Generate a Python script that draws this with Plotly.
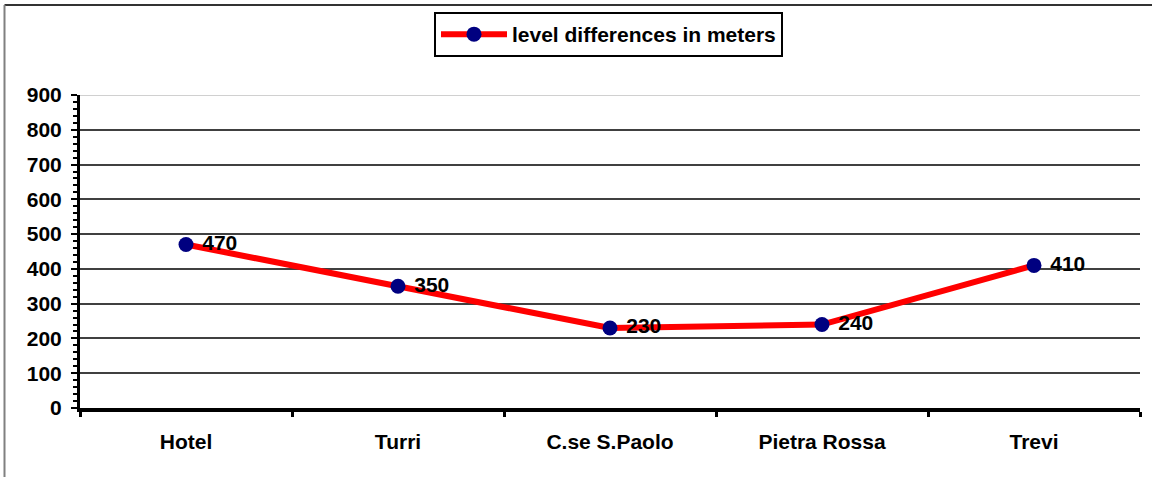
import plotly.graph_objects as go

categories = ["Hotel", "Turri", "C.se S.Paolo", "Pietra Rossa", "Trevi"]
values = [470, 350, 230, 240, 410]
series_name = "level differences in meters"
y_ticks = [0, 100, 200, 300, 400, 500, 600, 700, 800, 900]

FONT = "Liberation Sans, Arial"
W, H = 1152, 477
L, R, T, B = 80, 12, 95, 69
PW, PH = W - L - R, H - T - B

fig = go.Figure()
fig.add_trace(go.Scatter(
    x=categories, y=values, name=series_name,
    mode="lines+markers+text",
    line=dict(color="#ff0000", width=6),
    marker=dict(color="#000080", size=15, line=dict(width=0)),
    text=[" " + str(v) for v in values],
    textposition="middle right",
    textfont=dict(family=FONT, size=21, color="black", weight="bold"),
    showlegend=True,
))

fig.update_layout(
    width=W, height=H,
    margin=dict(l=L, r=R, t=T, b=B),
    paper_bgcolor="white", plot_bgcolor="white",
    font=dict(family=FONT, color="black"),
    showlegend=True,
    legend=dict(
        x=(434 - L) / PW, xanchor="left", xref="paper",
        y=1 - 12 / H, yanchor="top", yref="container",
        orientation="h",
        bordercolor="black", borderwidth=2,
        bgcolor="white",
        itemwidth=66,
        font=dict(family=FONT, size=21, color="black", weight="bold"),
    ),
    xaxis=dict(
        type="category",
        range=[-0.5, 4.5],
        showgrid=False,
        showline=True, linecolor="black", linewidth=4,
        ticks="outside", tickson="boundaries", ticklen=5, tickwidth=3, tickcolor="black",
        tickfont=dict(family=FONT, size=21, color="black", weight="bold"),
        ticklabelstandoff=12,
    ),
    yaxis=dict(
        range=[0, 900],
        tickvals=y_ticks,
        showgrid=True, gridcolor="#404040", gridwidth=2,
        showline=True, linecolor="black", linewidth=3,
        ticks="outside", ticklen=6, tickwidth=2, tickcolor="black",
        minor=dict(dtick=20, ticks="outside", ticklen=4, tickwidth=2, tickcolor="black", showgrid=False),
        tickfont=dict(family=FONT, size=21, color="black", weight="bold"),
        ticklabelstandoff=5,
        zeroline=False,
    ),
)

# lighter top gridline at 900
fig.add_shape(type="line", xref="paper", yref="y", x0=0, x1=1, y0=900, y1=900,
              line=dict(color="#d0d0d0", width=2), layer="above")

# outer chart frame (top and left edges visible)
fx0 = (4.5 - L) / PW
fx1 = (W + 2 - L) / PW
fy_top = (H - B - 5) / PH
fy_bot = (H - B - H - 2) / PH
fig.add_shape(type="line", xref="paper", yref="paper", x0=fx0, x1=fx1, y0=fy_top, y1=fy_top,
              line=dict(color="#333333", width=2))
fig.add_shape(type="line", xref="paper", yref="paper", x0=fx0, x1=fx0, y0=fy_top, y1=fy_bot,
              line=dict(color="#808080", width=2))

fig.write_html("out.html", config={"displayModeBar": False},
               post_script="document.body.style.margin='0';")
